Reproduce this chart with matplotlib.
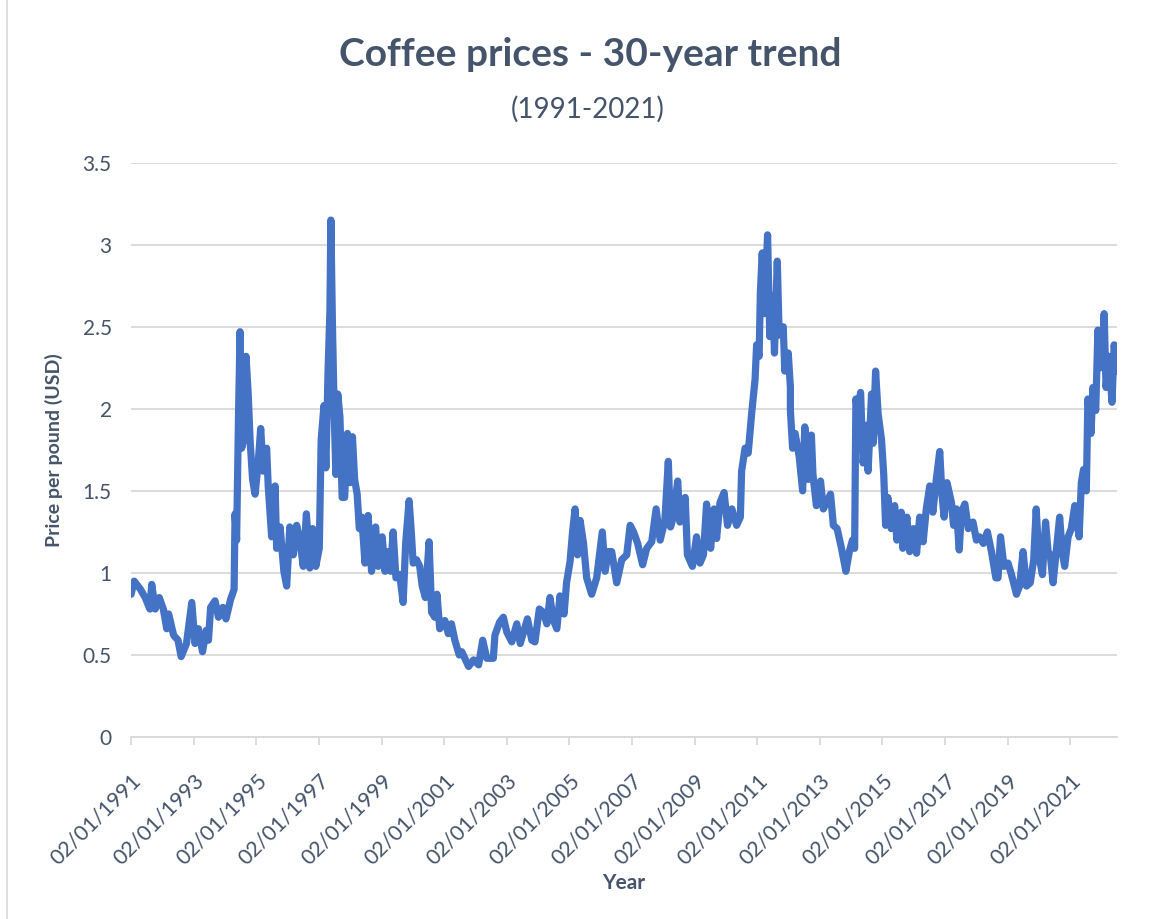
import datetime as dt
import matplotlib
matplotlib.use("Agg")
import matplotlib.pyplot as plt
from matplotlib.lines import Line2D

# decimal year, price per pound (USD)
years = [
    1991.00, 1991.10, 1991.30, 1991.45, 1991.60, 1991.66, 1991.77, 1991.90,
    1992.03, 1992.14, 1992.20, 1992.36, 1992.50, 1992.60, 1992.77, 1992.94,
    1993.04, 1993.15, 1993.28, 1993.40, 1993.47, 1993.54, 1993.68, 1993.79,
    1993.93, 1994.03, 1994.18, 1994.29, 1994.32, 1994.37, 1994.43, 1994.48,
    1994.53, 1994.60, 1994.67, 1994.74, 1994.80, 1994.88, 1994.96, 1995.06,
    1995.14, 1995.22, 1995.33, 1995.38, 1995.49, 1995.60, 1995.65, 1995.76,
    1995.88, 1995.97, 1996.07, 1996.18, 1996.29, 1996.39, 1996.50, 1996.60,
    1996.71, 1996.80, 1996.90, 1997.01, 1997.07, 1997.16, 1997.22, 1997.29,
    1997.35, 1997.38, 1997.43, 1997.49, 1997.54, 1997.60, 1997.67, 1997.74,
    1997.82, 1997.91, 1997.99, 1998.07, 1998.14, 1998.22, 1998.29, 1998.37,
    1998.47, 1998.57, 1998.68, 1998.81, 1998.89, 1999.02, 1999.11, 1999.21,
    1999.29, 1999.37, 1999.46, 1999.58, 1999.69, 1999.77, 1999.88, 1999.95,
    2000.01, 2000.12, 2000.22, 2000.30, 2000.40, 2000.52, 2000.60, 2000.70,
    2000.77, 2000.86, 2001.02, 2001.13, 2001.23, 2001.34, 2001.48, 2001.56,
    2001.78, 2001.94, 2002.10, 2002.23, 2002.36, 2002.57, 2002.62, 2002.77,
    2002.89, 2003.00, 2003.16, 2003.32, 2003.43, 2003.66, 2003.80, 2003.90,
    2004.04, 2004.17, 2004.28, 2004.38, 2004.49, 2004.60, 2004.70, 2004.83,
    2004.91, 2005.02, 2005.10, 2005.18, 2005.26, 2005.34, 2005.45, 2005.55,
    2005.71, 2005.87, 2006.05, 2006.14, 2006.24, 2006.35, 2006.51, 2006.67,
    2006.83, 2006.94, 2007.05, 2007.18, 2007.34, 2007.47, 2007.63, 2007.77,
    2007.90, 2008.05, 2008.16, 2008.23, 2008.32, 2008.46, 2008.53, 2008.70,
    2008.77, 2008.93, 2009.06, 2009.17, 2009.28, 2009.38, 2009.51, 2009.62,
    2009.70, 2009.81, 2009.94, 2010.05, 2010.19, 2010.34, 2010.46, 2010.50,
    2010.61, 2010.71, 2010.82, 2010.93, 2010.98, 2011.06, 2011.10, 2011.16,
    2011.23, 2011.33, 2011.40, 2011.50, 2011.55, 2011.64, 2011.70, 2011.83,
    2011.88, 2011.99, 2012.06, 2012.06, 2012.13, 2012.21, 2012.34, 2012.45,
    2012.52, 2012.63, 2012.73, 2012.78, 2012.89, 2013.02, 2013.11, 2013.21,
    2013.34, 2013.43, 2013.55, 2013.69, 2013.83, 2013.94, 2014.04, 2014.11,
    2014.15, 2014.22, 2014.30, 2014.38, 2014.49, 2014.54, 2014.65, 2014.70,
    2014.78, 2014.86, 2014.97, 2015.04, 2015.10, 2015.17, 2015.28, 2015.39,
    2015.46, 2015.60, 2015.65, 2015.78, 2015.87, 2015.99, 2016.09, 2016.19,
    2016.30, 2016.40, 2016.51, 2016.61, 2016.72, 2016.83, 2016.90, 2016.97,
    2017.06, 2017.20, 2017.27, 2017.36, 2017.45, 2017.52, 2017.63, 2017.74,
    2017.89, 2018.00, 2018.10, 2018.22, 2018.35, 2018.48, 2018.62, 2018.69,
    2018.77, 2018.88, 2019.01, 2019.12, 2019.28, 2019.38, 2019.49, 2019.60,
    2019.72, 2019.83, 2019.91, 2019.99, 2020.11, 2020.21, 2020.29, 2020.36,
    2020.45, 2020.56, 2020.66, 2020.74, 2020.82, 2020.93, 2021.03, 2021.14,
    2021.28, 2021.35, 2021.42, 2021.51, 2021.56, 2021.66, 2021.72, 2021.81,
    2021.88, 2021.95, 2022.03, 2022.08, 2022.14, 2022.23, 2022.33, 2022.40,
    2022.49,
]
prices = [
    0.87, 0.95, 0.90, 0.85, 0.78, 0.93, 0.78, 0.85,
    0.78, 0.66, 0.75, 0.62, 0.59, 0.49, 0.57, 0.82,
    0.57, 0.66, 0.52, 0.65, 0.59, 0.79, 0.83, 0.73,
    0.79, 0.72, 0.84, 0.90, 1.36, 1.20, 1.95, 2.47,
    1.76, 1.81, 2.32, 2.09, 1.81, 1.57, 1.48, 1.67,
    1.88, 1.62, 1.76, 1.53, 1.22, 1.53, 1.15, 1.28,
    1.01, 0.92, 1.28, 1.11, 1.29, 1.20, 1.04, 1.36,
    1.03, 1.27, 1.04, 1.15, 1.81, 2.02, 1.64, 2.23,
    2.60, 3.15, 2.51, 1.95, 1.60, 2.09, 1.95, 1.46,
    1.46, 1.85, 1.55, 1.83, 1.57, 1.48, 1.27, 1.34,
    1.06, 1.35, 1.01, 1.28, 1.04, 1.22, 1.01, 1.13,
    1.01, 1.25, 0.97, 0.99, 0.82, 1.18, 1.44, 1.25,
    1.06, 1.08, 1.04, 0.92, 0.85, 1.19, 0.76, 0.73,
    0.87, 0.66, 0.71, 0.63, 0.69, 0.59, 0.50, 0.52,
    0.43, 0.47, 0.44, 0.59, 0.48, 0.48, 0.62, 0.70,
    0.73, 0.64, 0.58, 0.69, 0.57, 0.72, 0.59, 0.58,
    0.78, 0.76, 0.69, 0.85, 0.71, 0.66, 0.86, 0.75,
    0.94, 1.07, 1.25, 1.39, 1.11, 1.32, 1.18, 0.97,
    0.87, 0.97, 1.25, 1.01, 1.13, 1.13, 0.94, 1.08,
    1.11, 1.29, 1.25, 1.18, 1.05, 1.15, 1.19, 1.39,
    1.20, 1.32, 1.68, 1.28, 1.34, 1.56, 1.31, 1.46,
    1.11, 1.04, 1.22, 1.06, 1.11, 1.42, 1.15, 1.39,
    1.21, 1.43, 1.49, 1.29, 1.39, 1.29, 1.34, 1.62,
    1.76, 1.73, 1.97, 2.18, 2.39, 2.32, 2.71, 2.95,
    2.58, 3.06, 2.44, 2.69, 2.34, 2.90, 2.45, 2.50,
    2.23, 2.34, 2.13, 1.99, 1.76, 1.85, 1.71, 1.50,
    1.89, 1.57, 1.84, 1.60, 1.41, 1.56, 1.39, 1.43,
    1.48, 1.29, 1.27, 1.15, 1.01, 1.13, 1.20, 1.15,
    2.06, 1.99, 2.10, 1.67, 1.90, 1.62, 2.09, 1.79,
    2.23, 1.97, 1.81, 1.60, 1.29, 1.46, 1.27, 1.41,
    1.20, 1.37, 1.15, 1.34, 1.13, 1.27, 1.12, 1.34,
    1.19, 1.39, 1.53, 1.37, 1.57, 1.74, 1.48, 1.34,
    1.55, 1.43, 1.29, 1.39, 1.14, 1.37, 1.42, 1.27,
    1.31, 1.20, 1.22, 1.18, 1.25, 1.13, 0.97, 0.97,
    1.22, 1.04, 1.06, 0.99, 0.87, 0.92, 1.13, 0.92,
    0.94, 1.08, 1.39, 1.11, 0.99, 1.31, 1.13, 1.11,
    0.94, 1.15, 1.34, 1.13, 1.04, 1.22, 1.27, 1.41,
    1.22, 1.55, 1.63, 1.50, 2.06, 1.85, 2.13, 1.99,
    2.48, 2.25, 2.32, 2.58, 2.13, 2.32, 2.04, 2.39,
    2.23,
]
tick_years = list(range(1991, 2022, 2))

TEXT = "#44546A"
GRID = "#D9D9D9"
LINE = "#4472C4"


def to_date(y):
    yr = int(y)
    start = dt.datetime(yr, 1, 2)
    return start + dt.timedelta(days=(y - yr) * 365.25)


dates = [to_date(y) for y in years]

plt.rcParams["font.family"] = ["Lato", "DejaVu Sans"]

fig = plt.figure(figsize=(11.6, 9.19), dpi=100)
ax = fig.add_axes([0.113, 0.198, 0.85, 0.625])

ax.plot(dates, prices, color=LINE, linewidth=5.2, solid_joinstyle="round",
        solid_capstyle="round")

ax.set_ylim(0, 3.5)
ax.set_yticks([0, 0.5, 1, 1.5, 2, 2.5, 3, 3.5])
ax.set_yticklabels(["0", "0.5", "1", "1.5", "2", "2.5", "3", "3.5"])
ax.set_xlim(dt.datetime(1991, 1, 2), dt.datetime(2022, 7, 1))
ticks = [dt.datetime(y, 1, 2) for y in tick_years]
ax.set_xticks(ticks)
ax.set_xticklabels([t.strftime("%d/%m/%Y") for t in ticks], rotation=45,
                   ha="right", rotation_mode="anchor")

ax.grid(axis="y", color=GRID, linewidth=1.3)
ax.set_axisbelow(True)
for side in ["top", "right", "left"]:
    ax.spines[side].set_visible(False)
ax.spines["bottom"].set_color(GRID)
ax.spines["bottom"].set_linewidth(1.3)
ax.tick_params(axis="y", length=0, pad=14, labelsize=15, labelcolor=TEXT)
ax.tick_params(axis="x", length=6, width=1.3, color=GRID, pad=18,
               labelsize=15.5, labelcolor=TEXT)

ax.set_xlabel("Year", fontsize=15, fontweight="bold", color=TEXT, labelpad=3)
ax.set_ylabel("Price per pound (USD)", fontsize=14, fontweight="bold",
              color=TEXT, labelpad=14)

fig.text(0.509, 0.941, "Coffee prices - 30-year trend", ha="center",
         va="center", fontsize=28, fontweight="bold", color=TEXT)
fig.text(0.507, 0.881, "(1991-2021)", ha="center", va="center", fontsize=20,
         color=TEXT)

# chart area border on the left edge
fig.add_artist(Line2D([0.006, 0.006], [0, 1], transform=fig.transFigure,
                      color=GRID, linewidth=1.2))

fig.savefig("out.png", dpi=100)
